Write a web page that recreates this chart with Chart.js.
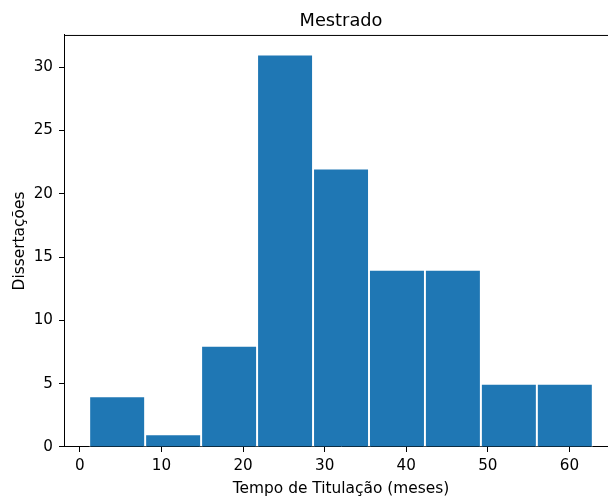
<!DOCTYPE html>
<html>
<head>
<meta charset="utf-8">
<script src="https://cdn.jsdelivr.net/npm/chart.js@4"></script>
<style>
  body { margin: 0; background: #fff; }
  #caixa { width: 608px; height: 498px; overflow: hidden; }
</style>
</head>
<body>
<div id="caixa"><canvas id="grafico" width="640" height="498"></canvas></div>
<script>
// Dados do histograma
const limitesBins = [1.14, 8.0, 14.86, 21.72, 28.58, 35.44, 42.29, 49.15, 56.01, 62.87];
const contagens = [4, 1, 8, 31, 22, 14, 14, 5, 5];
const ticksX = [0, 10, 20, 30, 40, 50, 60];
const ticksY = [0, 5, 10, 15, 20, 25, 30];

const titulo = 'Mestrado';
const rotuloX = 'Tempo de Titulação (meses)';
const rotuloY = 'Dissertações';

// Centro de cada bin
const pontos = contagens.map((c, i) => ({ x: (limitesBins[i] + limitesBins[i + 1]) / 2, y: c }));

// Limites dos eixos como no matplotlib (margem de 5%)
const faixa = limitesBins[limitesBins.length - 1] - limitesBins[0];
const xMin = limitesBins[0] - 0.05 * faixa;
const xMax = limitesBins[limitesBins.length - 1] + 0.05 * faixa;
const yMax = Math.max(...contagens) * 1.05;

Chart.defaults.font.family = 'DejaVu Sans';
Chart.defaults.color = '#000';

// Linha superior do quadro (a da direita fica fora da imagem)
const moldura = {
    id: 'moldura',
    afterDraw(chart) {
        const a = chart.chartArea;
        const c = chart.ctx;
        c.save();
        c.strokeStyle = '#000';
        c.lineWidth = 1;
        c.beginPath();
        c.moveTo(a.left, a.top + 0.5);
        c.lineTo(a.right, a.top + 0.5);
        c.stroke();
        c.restore();
    }
};

const ctx = document.getElementById('grafico').getContext('2d');
new Chart(ctx, {
    type: 'bar',
    data: {
        datasets: [{
            data: pontos,
            backgroundColor: '#1f77b4',
            borderColor: '#ffffff',
            borderWidth: 1.3,
            borderSkipped: 'start',
            barPercentage: 1,
            categoryPercentage: 1
        }]
    },
    options: {
        responsive: false,
        animation: false,
        layout: { padding: { left: 0, right: 22, top: 0, bottom: 0 } },
        plugins: {
            legend: { display: false },
            tooltip: { enabled: false },
            title: {
                display: true,
                text: titulo,
                fullSize: false,
                font: { size: 17.8, weight: 'normal' },
                padding: { top: 10.8, bottom: 2.8 }
            }
        },
        scales: {
            x: {
                type: 'linear',
                min: xMin,
                max: xMax,
                offset: false,
                afterFit: s => { s.height = 51; },
                afterBuildTicks: s => { s.ticks = ticksX.map(v => ({ value: v })); },
                grid: { offset: false, drawOnChartArea: false, drawTicks: true, tickLength: 5, color: '#000' },
                border: { display: true, color: '#000', width: 1 },
                ticks: { font: { size: 15.2 }, padding: 4.5, maxRotation: 0 },
                title: { display: true, text: rotuloX, font: { size: 15.4 }, padding: { top: 0, bottom: 0 } }
            },
            y: {
                min: 0,
                max: yMax,
                afterFit: s => { s.width = 64; },
                afterBuildTicks: s => { s.ticks = ticksY.map(v => ({ value: v })); },
                grid: { drawOnChartArea: false, drawTicks: true, tickLength: 5, color: '#000' },
                border: { display: true, color: '#000', width: 1 },
                ticks: { font: { size: 15.2 }, padding: 6 },
                title: { display: true, text: rotuloY, font: { size: 15.4 }, padding: { top: 10.5, bottom: 0 } }
            }
        }
    },
    plugins: [moldura]
});
</script>
</body>
</html>
